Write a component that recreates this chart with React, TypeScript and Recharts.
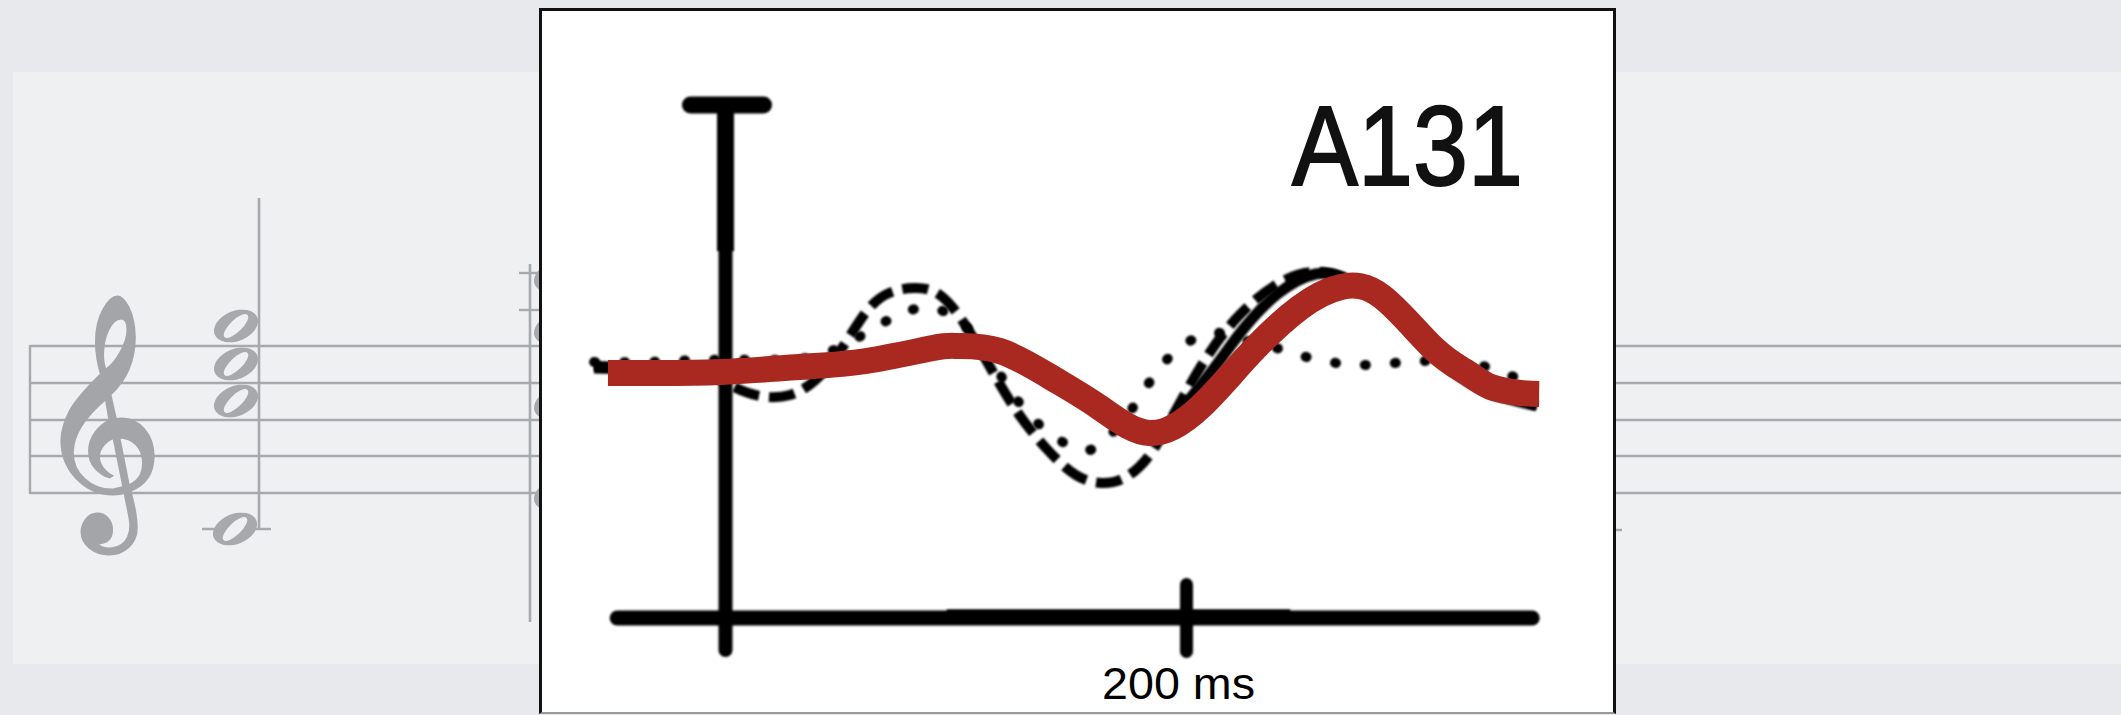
import React from 'react';
import { LineChart, Line, XAxis, YAxis, ReferenceLine } from 'recharts';

// ---- data (time in ms, amplitude in arbitrary units) ----
const redTimes = [-51, -33, -2, 32, 61, 90, 101, 119, 141, 162, 184, 206, 227, 249, 267, 285, 307, 322, 332, 345, 353];
const redValues = [0, 0, 0.02, 0.12, 0.24, 0.5, 0.54, 0.44, -0.08, -0.68, -1.2, -0.68, 0.36, 1.3, 1.72, 1.52, 0.5, 0, -0.28, -0.4, -0.42];

const solidTimes = [-57, -37, -11, 10, 30, 60, 90, 101, 119, 141, 162, 178, 190, 200, 212, 225, 240, 256, 270, 288, 306, 323, 340, 352];
const solidValues = [0.1, 0.08, 0.04, -0.04, 0.04, 0.22, 0.46, 0.5, 0.38, -0.14, -0.74, -1.18, -1.1, -0.6, 0.1, 0.9, 1.6, 1.98, 1.86, 1.3, 0.46, -0.2, -0.52, -0.66];

const dashedTimes = [-57, -33, -11, 2, 15, 28, 39, 50, 61, 71, 82, 93, 104, 115, 126, 139, 152, 163, 173, 184, 195, 208, 223, 241, 258, 275, 293, 310, 327, 352];
const dashedValues = [0.14, 0.1, 0.02, -0.24, -0.46, -0.44, -0.14, 0.46, 1.22, 1.6, 1.7, 1.56, 0.96, 0.1, -0.74, -1.5, -2.04, -2.2, -2.1, -1.64, -0.78, 0.26, 1.16, 1.82, 2.02, 1.76, 1.16, 0.36, -0.24, -0.64];

const dottedTimes = [-57, -33, -11, 15, 41, 63, 78, 89, 100, 111, 122, 134, 147, 158, 167, 176, 184, 193, 204, 215, 225, 239, 252, 265, 277, 290, 303, 317, 330, 341, 352];
const dottedValues = [0.22, 0.22, 0.26, 0.26, 0.36, 0.86, 1.22, 1.3, 1.1, 0.56, -0.24, -0.94, -1.4, -1.54, -1.24, -0.74, -0.18, 0.34, 0.7, 0.8, 0.66, 0.5, 0.32, 0.2, 0.16, 0.2, 0.24, 0.26, 0.12, -0.06, -0.22];

// axis geometry (in data units)
const axisStart = -47;
const axisEnd = 350;
const axisLevel = -4.9;
const tickTime = 200;
const tickLabel = '200 ms';
const panelTitle = 'A131';

const toRows = (ts: number[], vs: number[]) => ts.map((t, i) => ({ t, v: vs[i] }));
const redData = toRows(redTimes, redValues);
const solidData = toRows(solidTimes, solidValues);
const dashedData = toRows(dashedTimes, dashedValues);
const dottedData = toRows(dottedTimes, dottedValues);

const W = 2121;
const H = 715;
const GRAY = '#a7a9ac';
const INNER_BG = '#eef0f2';

const staffY = [346, 383, 420, 456, 493];

function NoteHead({ cx, cy }: { cx: number; cy: number }) {
  return (
    <g transform={`translate(${cx},${cy}) rotate(-22)`}>
      <ellipse cx={0} cy={0} rx={23} ry={15} fill={GRAY} />
      <ellipse cx={0} cy={0} rx={16} ry={6} fill={INNER_BG} transform="rotate(-22)" />
    </g>
  );
}

function Background() {
  return (
    <svg width={W} height={H} style={{ position: 'absolute', left: 0, top: 0 }}>
      <rect x={0} y={0} width={W} height={H} fill="#e8e9ec" />
      <rect x={13} y={72} width={W - 13} height={592} fill={INNER_BG} />
      {staffY.map((y) => (
        <line key={y} x1={30} x2={W} y1={y} y2={y} stroke={GRAY} strokeWidth={2.4} />
      ))}
      <line x1={30} x2={30} y1={345} y2={494} stroke={GRAY} strokeWidth={2.4} />
      <text
        x={36}
        y={491}
        fontSize={216}
        fill="#a3a5a8"
        stroke="#a3a5a8"
        strokeWidth={3}
        fontFamily="DejaVu Sans, Noto Sans, sans-serif"
      >
        {'\u{1D11E}'}
      </text>
      {/* first chord */}
      <line x1={259} x2={259} y1={198} y2={529} stroke={GRAY} strokeWidth={2.6} />
      <line x1={202} x2={271} y1={529} y2={529} stroke={GRAY} strokeWidth={2.4} />
      <NoteHead cx={236} cy={326} />
      <NoteHead cx={236} cy={364} />
      <NoteHead cx={236} cy={401} />
      <NoteHead cx={235} cy={529} />
      {/* second chord, mostly hidden */}
      <line x1={530} x2={530} y1={264} y2={622} stroke={GRAY} strokeWidth={2.6} />
      <line x1={519} x2={545} y1={273} y2={273} stroke={GRAY} strokeWidth={2.4} />
      <line x1={519} x2={545} y1={310} y2={310} stroke={GRAY} strokeWidth={2.4} />
      <NoteHead cx={556} cy={276} />
      <NoteHead cx={556} cy={328} />
      <NoteHead cx={556} cy={403} />
      <NoteHead cx={556} cy={494} />
      <line x1={1600} x2={1622} y1={530} y2={530} stroke={GRAY} strokeWidth={2.4} />
    </svg>
  );
}

export default function App() {
  // plot area: x from 587.2 to 1555.3 px (domain -60..360 ms), y from 73 to 673 px (domain -6..6)
  const margin = { left: 587.2, right: W - 1555.3, top: 73, bottom: H - 673 };
  return (
    <div style={{ position: 'absolute', left: 0, top: 0, width: W, height: H, overflow: 'hidden', background: '#e8e9ec' }}>
      <style>{'.scan { filter: blur(0.9px); }'}</style>
      <Background />
      <div
        style={{
          position: 'absolute',
          left: 539,
          top: 8,
          width: 1077,
          height: 706,
          boxSizing: 'border-box',
          background: '#ffffff',
          borderLeft: '3px solid #111',
          borderTop: '3px solid #111',
          borderRight: '3px solid #111',
          borderBottom: '2px solid #9a9a9a',
        }}
      />
      <div style={{ position: 'absolute', left: 0, top: 0 }}>
        <LineChart width={W} height={H} margin={margin}>
          <XAxis type="number" dataKey="t" domain={[-60, 360]} allowDataOverflow hide />
          <YAxis type="number" dataKey="v" domain={[-6, 6]} allowDataOverflow hide />
          {/* axes drawn like the original figure */}
          <ReferenceLine
            className="scan"
            segment={[{ x: axisStart, y: axisLevel }, { x: axisEnd, y: axisLevel }]}
            stroke="#000"
            strokeWidth={15}
            strokeLinecap="round"
            ifOverflow="visible"
          />
          <ReferenceLine
            className="scan"
            segment={[{ x: 96, y: -4.8 }, { x: 245, y: -4.8 }]}
            stroke="#000"
            strokeWidth={7}
            ifOverflow="visible"
          />
          <ReferenceLine
            className="scan"
            segment={[{ x: 0, y: -5.54 }, { x: 0, y: 2.44 }]}
            stroke="#000"
            strokeWidth={14}
            strokeLinecap="round"
            ifOverflow="visible"
          />
          <ReferenceLine
            className="scan"
            segment={[{ x: 0, y: 2.44 }, { x: 0, y: 5.36 }]}
            stroke="#000"
            strokeWidth={17}
            ifOverflow="visible"
          />
          <ReferenceLine
            className="scan"
            segment={[{ x: -15.2, y: 5.36 }, { x: 16.5, y: 5.36 }]}
            stroke="#000"
            strokeWidth={17}
            strokeLinecap="round"
            ifOverflow="visible"
          />
          <ReferenceLine
            className="scan"
            segment={[{ x: tickTime, y: -4.23 }, { x: tickTime, y: -5.57 }]}
            stroke="#000"
            strokeWidth={13}
            strokeLinecap="round"
            ifOverflow="visible"
          />
          <Line
            className="scan"
            data={dottedData}
            dataKey="v"
            type="natural"
            stroke="#000"
            strokeWidth={10}
            strokeDasharray="1 29"
            strokeLinecap="round"
            dot={false}
            activeDot={false}
            isAnimationActive={false}
          />
          <Line
            className="scan"
            data={dashedData}
            dataKey="v"
            type="natural"
            stroke="#000"
            strokeWidth={10}
            strokeDasharray="26 10"
            dot={false}
            activeDot={false}
            isAnimationActive={false}
          />
          <Line
            className="scan"
            data={solidData}
            dataKey="v"
            type="natural"
            stroke="#000"
            strokeWidth={11}
            dot={false}
            activeDot={false}
            isAnimationActive={false}
          />
          <Line
            data={redData}
            dataKey="v"
            type="natural"
            stroke="#a9281f"
            strokeWidth={26}
            strokeLinecap="butt"
            dot={false}
            activeDot={false}
            isAnimationActive={false}
          />
        </LineChart>
      </div>
      <svg width={W} height={H} style={{ position: 'absolute', left: 0, top: 0, pointerEvents: 'none' }}>
        <text
          x={1292}
          y={185}
          fontSize={114}
          textLength={231}
          lengthAdjust="spacingAndGlyphs"
          fill="#111"
          stroke="#111"
          strokeWidth={2}
          fontFamily="Liberation Sans, Arial, sans-serif"
        >
          {panelTitle}
        </text>
        <text
          x={1102}
          y={699}
          fontSize={44}
          textLength={153}
          lengthAdjust="spacingAndGlyphs"
          fill="#000"
          fontFamily="Liberation Sans, Arial, sans-serif"
        >
          {tickLabel}
        </text>
      </svg>
    </div>
  );
}
